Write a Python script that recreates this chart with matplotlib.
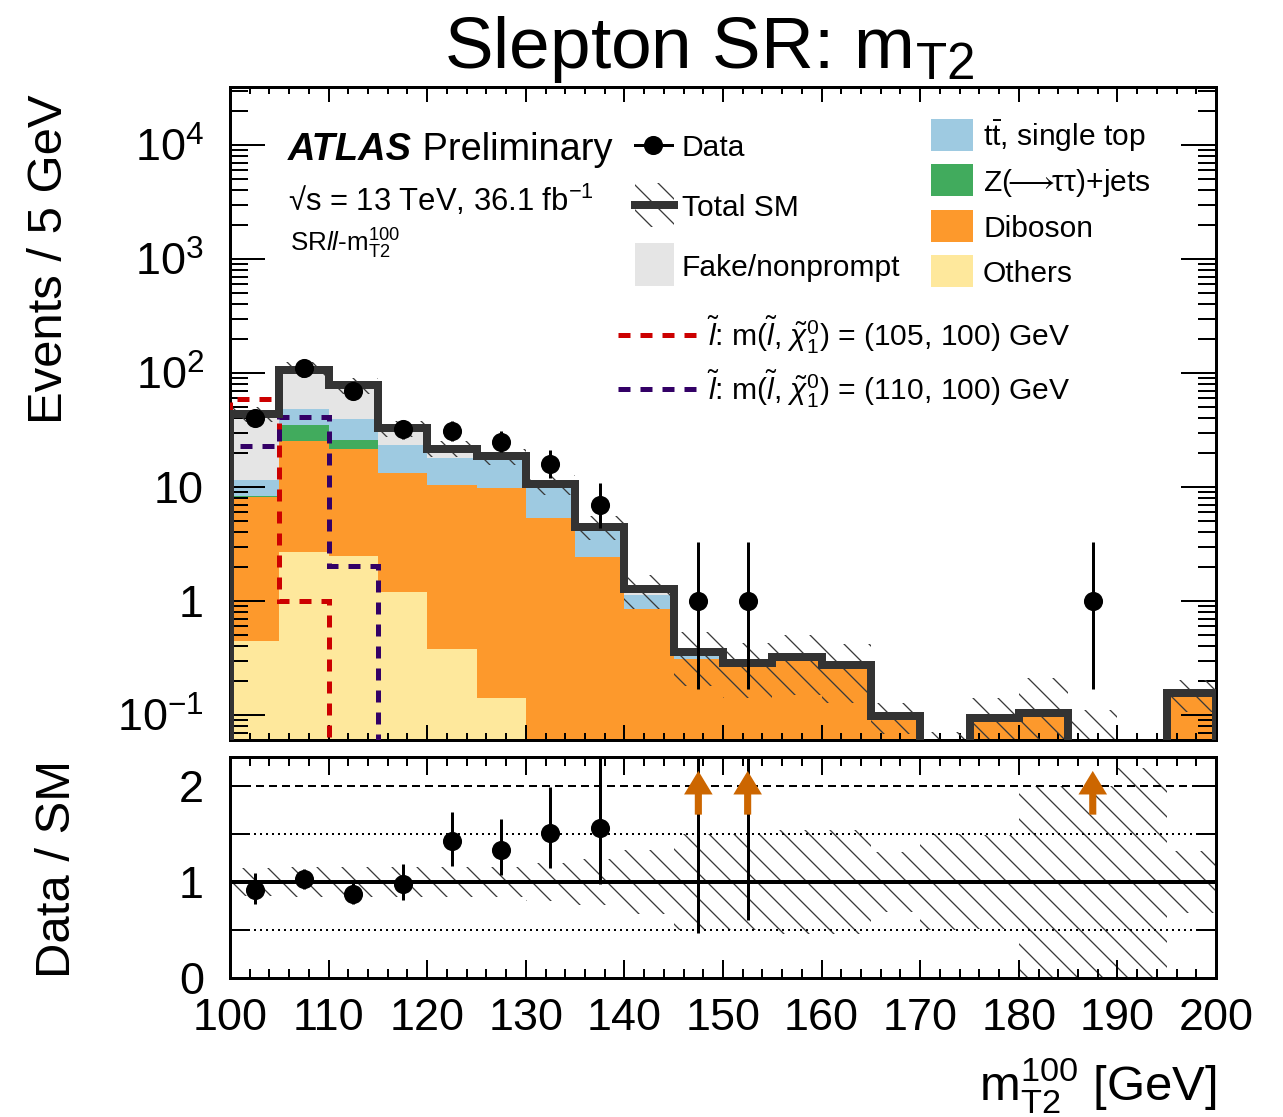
import numpy as np
import matplotlib
matplotlib.use("Agg")
import matplotlib.pyplot as plt
from matplotlib.patches import Rectangle
from matplotlib.lines import Line2D
from matplotlib.ticker import FixedLocator, FuncFormatter, NullFormatter, MultipleLocator, LogLocator

W, H, DPI = 1283, 1117, 150


def pt(p):
    # pixel size -> points at the output dpi
    return p * 72.0 / DPI


plt.rcParams['font.family'] = ['Liberation Sans', 'DejaVu Sans']
plt.rcParams['mathtext.fontset'] = 'custom'
plt.rcParams['mathtext.rm'] = 'Liberation Sans'
plt.rcParams['mathtext.it'] = 'Liberation Sans:italic'
plt.rcParams['mathtext.bf'] = 'Liberation Sans:bold'
plt.rcParams['mathtext.fallback'] = 'stixsans'
plt.rcParams['hatch.linewidth'] = pt(1.3)
plt.rcParams['lines.scale_dashes'] = False

# ---- data: events per 5 GeV bin, mT2 from 100 to 200 GeV
bin_edges = np.arange(100, 205, 5)
others = np.array([0.45, 2.7, 2.5, 1.2, 0.38, 0.14, 0, 0, 0, 0,
                   0, 0, 0, 0, 0, 0, 0, 0, 0, 0])
diboson = np.array([7.8, 22.6, 18.9, 12.0, 10.0, 9.6, 5.3, 2.45, 0.86, 0.31,
                    0.284, 0.325, 0.275, 0.098, 0.047, 0.095, 0.105, 0.055, 0.025, 0.155])
zjets = np.array([0.15, 9.7, 4.4, 0.1, 0, 0, 0, 0, 0, 0,
                  0, 0, 0, 0, 0, 0, 0, 0, 0, 0])
ttbar = np.array([3.1, 13.0, 13.5, 10.1, 7.7, 7.6, 5.3, 2.04, 0.27, 0.03,
                  0, 0, 0, 0, 0, 0, 0, 0, 0, 0])
fake = np.array([32.0, 59.0, 39.2, 9.3, 3.7, 1.4, 0, 0, 0.14, 0.02,
                 0, 0, 0, 0, 0, 0, 0, 0, 0, 0])
# relative total SM uncertainty per bin
rel_unc = np.array([0.15, 0.16, 0.16, 0.16, 0.16, 0.16, 0.20, 0.24, 0.33, 0.50,
                    0.50, 0.54, 0.54, 0.31, 0.50, 0.49, 1.0, 1.0, 1.19, 0.32])
data = np.array([40, 110, 69, 32, 31, 25, 16, 7, 0, 1,
                 1, 0, 0, 0, 0, 0, 0, 1, 0, 0])
data_err_lo = np.array([6.3, 10.5, 8.3, 5.6, 5.5, 4.9, 3.9, 2.6, 0, 0.83,
                        0.83, 0, 0, 0, 0, 0, 0, 0.83, 0, 0])
data_err_hi = np.array([7.4, 11.5, 9.3, 6.7, 6.6, 6.0, 5.1, 3.8, 0, 2.3,
                        2.3, 0, 0, 0, 0, 0, 0, 2.3, 0, 0])
sig_105 = np.array([58.7, 1.0, 0, 0, 0, 0, 0, 0, 0, 0,
                    0, 0, 0, 0, 0, 0, 0, 0, 0, 0])
sig_110 = np.array([22.9, 41.4, 2.04, 0, 0, 0, 0, 0, 0, 0,
                    0, 0, 0, 0, 0, 0, 0, 0, 0, 0])

c_others, c_diboson, c_zjets, c_ttbar, c_fake = '#fee89c', '#fd992c', '#41ab5d', '#9ecae1', '#e5e5e5'
c_total = '#333333'
c_sig105, c_sig110 = '#cc0000', '#330066'

centers = 0.5 * (bin_edges[:-1] + bin_edges[1:])
total = others + diboson + zjets + ttbar + fake
unc = rel_unc * total

fig = plt.figure(figsize=(W / DPI, H / DPI), dpi=DPI)
ax = fig.add_axes([230 / W, 1 - 740 / H, 986 / W, 653 / H])
rax = fig.add_axes([230 / W, 1 - 978 / H, 986 / W, 221 / H])


def fx(x):
    return (x - 230) / 986.0


def fy(y):
    return (740 - y) / 653.0


# stacked backgrounds
base = np.full(len(total), 1e-4)
for vals, col in [(others, c_others), (diboson, c_diboson), (zjets, c_zjets),
                  (ttbar, c_ttbar), (fake, c_fake)]:
    ax.stairs(base + vals, bin_edges, baseline=base, fill=True, color=col, zorder=1)
    base = base + vals

ax.stairs(total + unc, bin_edges, baseline=total - unc, fill=True, facecolor='none',
          edgecolor='#3a3a3a', hatch='\\\\', lw=0, zorder=2)
ax.stairs(total, bin_edges, baseline=1e-5, color=c_total, lw=pt(8), zorder=6)

# signals
for sig, col in [(sig_105, c_sig105), (sig_110, c_sig110)]:
    n = np.nonzero(sig)[0].max() + 1
    ax.stairs(sig[:n], bin_edges[:n + 1], baseline=1e-5, color=col, lw=pt(5),
              ls=(0, (pt(12), pt(10))), zorder=5)

m = data > 0
ax.errorbar(centers[m], data[m], yerr=[data_err_lo[m], data_err_hi[m]], fmt='o', color='black',
            ms=pt(17), elinewidth=pt(3), capsize=0, zorder=10)

ax.set_yscale('log')
ax.set_ylim(0.0604, 32300)
ax.set_xlim(100, 200)


def ylab(v, pos):
    e = int(round(np.log10(v)))
    if e == 0:
        return '1'
    if e == 1:
        return '10'
    return '10$^{%d}$' % e


ax.yaxis.set_major_locator(FixedLocator([0.1, 1, 10, 100, 1e3, 1e4]))
ax.yaxis.set_minor_locator(LogLocator(subs=np.arange(2, 10), numticks=30))
ax.yaxis.set_major_formatter(FuncFormatter(ylab))
ax.yaxis.set_minor_formatter(NullFormatter())
ax.xaxis.set_major_locator(MultipleLocator(10))
ax.xaxis.set_minor_locator(MultipleLocator(2))
ax.tick_params(which='both', direction='in', top=True, right=True, width=pt(2))
ax.tick_params(axis='y', which='major', length=pt(35), labelsize=pt(45), pad=pt(26))
ax.tick_params(axis='y', which='minor', length=pt(18))
ax.tick_params(axis='x', which='major', length=pt(15))
ax.tick_params(axis='x', which='minor', length=pt(7))
ax.tick_params(axis='x', labelbottom=False)

# ratio panel
ratio = data / total
rax.stairs(1 + rel_unc, bin_edges, baseline=1 - rel_unc, fill=True, facecolor='none',
           edgecolor='#3a3a3a', hatch='\\\\', lw=0, zorder=1)
rax.axhline(1, color='black', lw=pt(4), zorder=3)
rax.axhline(2, color='black', lw=pt(2), ls=(0, (pt(8), pt(5))), zorder=3)
for yv in (0.5, 1.5):
    rax.axhline(yv, color='black', lw=pt(2), ls=(0, (pt(2), pt(4))), zorder=3)
rax.errorbar(centers[m], ratio[m], yerr=[data_err_lo[m] / total[m], data_err_hi[m] / total[m]],
             fmt='o', color='black', ms=pt(17), elinewidth=pt(3), capsize=0, zorder=10)
for x, r in zip(centers[m], ratio[m]):
    if r > 2.3:
        rax.arrow(x, 1.70, 0, 0.455, width=0.72, head_width=2.9, head_length=0.245,
                  length_includes_head=True, color='#cc6600', lw=0, zorder=11)
rax.set_xlim(100, 200)
rax.set_ylim(0, 2.3)
rax.yaxis.set_major_locator(FixedLocator([0, 1, 2]))
rax.yaxis.set_minor_locator(MultipleLocator(0.5))
rax.xaxis.set_major_locator(MultipleLocator(10))
rax.xaxis.set_minor_locator(MultipleLocator(2))
rax.tick_params(which='both', direction='in', top=True, right=True, width=pt(2))
rax.tick_params(axis='y', which='major', length=pt(20), labelsize=pt(45), pad=pt(26))
rax.tick_params(axis='y', which='minor', length=pt(20))
rax.tick_params(axis='x', which='major', length=pt(18), labelsize=pt(45), pad=pt(20))
rax.tick_params(axis='x', which='minor', length=pt(9))

for a in (ax, rax):
    for s in a.spines.values():
        s.set_linewidth(pt(3))

# labels
fig.text(709 / W, 1 - 68 / H, r'Slepton SR: m$_{\mathrm{T2}}$', ha='center', va='baseline',
         fontsize=pt(73))
fig.text(50 / W, 1 - 95 / H, 'Events / 5 GeV', rotation=90, ha='center', va='top', fontsize=pt(49))
fig.text(58 / W, 1 - 760 / H, 'Data / SM', rotation=90, ha='center', va='top', fontsize=pt(49))
fig.text(1216 / W, 1 - 1100 / H, r'm$_{\mathrm{T2}}^{100}$ [GeV]', ha='right', va='baseline',
         fontsize=pt(49))

t = ax.text(fx(288), fy(160), 'ATLAS', transform=ax.transAxes, fontsize=pt(38),
            fontweight='bold', fontstyle='italic', va='baseline')
ax.annotate(' Preliminary', xy=(1, 0), xycoords=t, fontsize=pt(38), va='bottom', ha='left')
ax.text(fx(288), fy(211), '\u221as = 13 TeV, 36.1 fb$^{-1}$', transform=ax.transAxes,
        fontsize=pt(31), va='baseline')
ax.text(fx(290), fy(252), r'SR$\mathit{ll}$-m$_{\mathrm{T2}}^{100}$', transform=ax.transAxes,
        fontsize=pt(26), va='baseline')


# legend, drawn by hand in ROOT style
def box(x0, x1, y0, y1, **kw):
    ax.add_patch(Rectangle((fx(x0), fy(y1)), fx(x1) - fx(x0), fy(y0) - fy(y1),
                           transform=ax.transAxes, **kw))


def label(x, y, s):
    ax.text(fx(x), fy(y), s, transform=ax.transAxes, fontsize=pt(30), va='baseline')


ax.add_line(Line2D([fx(635), fx(653), fx(672)], [fy(145)] * 3, transform=ax.transAxes, color='black',
                   lw=pt(3), marker='o', ms=pt(17), markevery=[1]))
label(682, 156, 'Data')
box(635, 674, 183, 227, facecolor='none', edgecolor='#3a3a3a', hatch='\\\\', lw=0)
ax.add_line(Line2D([fx(635), fx(674)], [fy(205)] * 2, transform=ax.transAxes, color=c_total, lw=pt(8)))
label(682, 216, 'Total SM')
box(635, 674, 243, 286, facecolor=c_fake, lw=0)
label(682, 276, 'Fake/nonprompt')

right_labels = [r'$\mathrm{t\bar{t}}$, single top',
                r'Z($\!\!\longrightarrow\!\!\mathrm{\tau\tau}$)+jets',
                'Diboson', 'Others']
right_colors = [c_ttbar, c_zjets, c_diboson, c_others]
for i, (lab, col) in enumerate(zip(right_labels, right_colors)):
    yc = 135 + 45.3 * i
    box(931, 973, yc - 16, yc + 16, facecolor=col, lw=0)
    label(983, yc + 11, lab)

sig_labels = [r'$\tilde{l}$: m($\tilde{l}$, $\tilde{\chi}_{1}^{0}$) = (105, 100) GeV',
              r'$\tilde{l}$: m($\tilde{l}$, $\tilde{\chi}_{1}^{0}$) = (110, 100) GeV']
for i, (lab, col) in enumerate(zip(sig_labels, [c_sig105, c_sig110])):
    yc = 335 + 54 * i
    ax.add_line(Line2D([fx(618), fx(700)], [fy(yc)] * 2, transform=ax.transAxes, color=col,
                       lw=pt(5), ls=(0, (pt(12), pt(10)))))
    label(707, yc + 11, lab)

fig.savefig('out.png', dpi=DPI)
